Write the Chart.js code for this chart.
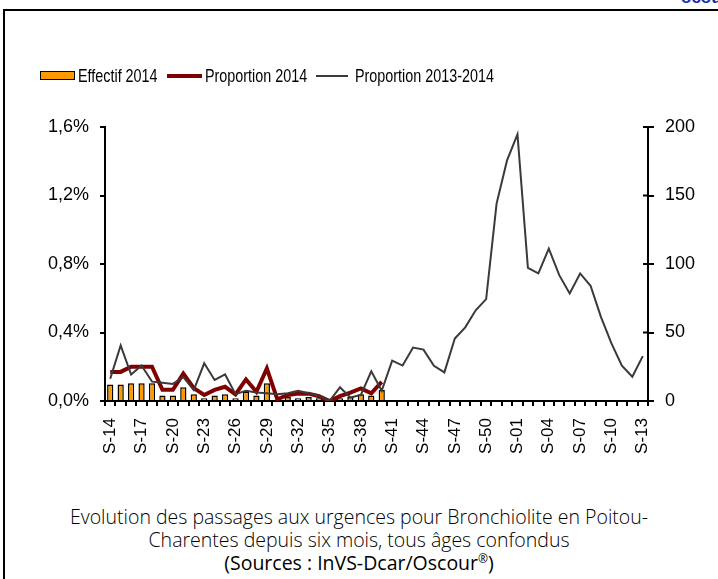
<!DOCTYPE html>
<html lang="fr">
<head>
<meta charset="utf-8">
<title>Bronchiolite Poitou-Charentes</title>
<script src="https://cdn.jsdelivr.net/npm/chart.js@4.4.1/dist/chart.umd.min.js"></script>
<style>
  html, body { margin: 0; padding: 0; background: #fff; overflow: hidden; }
  #page { position: relative; width: 718px; height: 579px; overflow: hidden; }
  #frame { position: absolute; left: 3px; top: 9px; right: -10px; bottom: -10px;
           border-left: 2px solid #000; border-top: 2px solid #000; }
  #head { position: absolute; left: 681px; top: -12px; white-space: nowrap;
          font: bold 17px "Liberation Sans", Arial, sans-serif; color: #1c2f9e; }
  #chart { position: absolute; left: 0; top: 0; }
  .lg { position: absolute; }
  .lg-box { left: 40px; top: 71px; width: 33px; height: 7px; background: #FF9900; border: 1.5px solid #000; }
  .lg-red { left: 167px; top: 74px; width: 35px; height: 4px; background: #800000; }
  .lg-gray { left: 316px; top: 75px; width: 32px; height: 2px; background: #3a3a3a; }
  .lg-txt { top: 65px; white-space: nowrap; font: 18.5px "Liberation Sans", Arial, sans-serif;
            line-height: 22px; color: #000; transform: scaleX(0.776); transform-origin: left center; }
  #caption { position: absolute; left: 0; width: 718px; top: 505px; text-align: center;
             font-family: "Open Sans", sans-serif; font-weight: 300; font-size: 19.5px;
             line-height: 23px; color: #000; }
  #caption .src { font-weight: 400; }
  #caption sup { font-size: 12px; line-height: 0; }
</style>
</head>
<body>
<div id="page">
  <div id="head">ocou</div>
  <div id="frame"></div>
  <canvas id="chart" width="718" height="470"></canvas>
  <div id="legend">
    <div class="lg lg-box"></div><div class="lg lg-txt" style="left:78px">Effectif 2014</div>
    <div class="lg lg-red"></div><div class="lg lg-txt" style="left:205px">Proportion 2014</div>
    <div class="lg lg-gray"></div><div class="lg lg-txt" style="left:355px">Proportion 2013-2014</div>
  </div>
  <div id="caption">
    Evolution des passages aux urgences pour Bronchiolite en Poitou-<br>
    Charentes depuis six mois, tous âges confondus<br>
    <span class="src">(Sources : InVS-Dcar/Oscour<sup>®</sup>)</span>
  </div>
</div>
<script>
// semaines S-14 (2014) a S-13 (2015)
const weeks = ['S-14', 'S-15', 'S-16', 'S-17', 'S-18', 'S-19', 'S-20', 'S-21', 'S-22', 'S-23',
  'S-24', 'S-25', 'S-26', 'S-27', 'S-28', 'S-29', 'S-30', 'S-31', 'S-32', 'S-33',
  'S-34', 'S-35', 'S-36', 'S-37', 'S-38', 'S-39', 'S-40', 'S-41', 'S-42', 'S-43',
  'S-44', 'S-45', 'S-46', 'S-47', 'S-48', 'S-49', 'S-50', 'S-51', 'S-52', 'S-01',
  'S-02', 'S-03', 'S-04', 'S-05', 'S-06', 'S-07', 'S-08', 'S-09', 'S-10', 'S-11',
  'S-12', 'S-13'];

// nombre de passages 2014 (axe droit)
const effectif2014 = [12, 12, 13, 13, 13, 4, 4, 10, 5, 2, 4, 5, 2, 7, 4, 13, 1, 3, 2, 3,
  2, 0, 2, 3, 5, 4, 8];

// proportion (%) 2014 (axe gauche)
const proportion2014 = [0.17, 0.17, 0.20, 0.20, 0.20, 0.065, 0.065, 0.16, 0.075, 0.035,
  0.065, 0.083, 0.039, 0.126, 0.054, 0.19, 0.01, 0.035, 0.043, 0.043,
  0.028, 0, 0.028, 0.049, 0.074, 0.045, 0.112];

// proportion (%) 2013-2014
const proportion1314 = [0.13, 0.325, 0.154, 0.207, 0.113, 0.107, 0.10, 0.14, 0.064, 0.22,
  0.123, 0.155, 0.04, 0.06, 0.05, 0.045, 0.04, 0.045, 0.06, 0.045,
  0.03, 0, 0.08, 0.02, 0.035, 0.173, 0.06, 0.236, 0.207, 0.312,
  0.30, 0.206, 0.167, 0.365, 0.43, 0.53, 0.595, 1.153, 1.405, 1.557,
  0.777, 0.745, 0.89, 0.735, 0.628, 0.745, 0.673, 0.49, 0.336, 0.206,
  0.142, 0.262];

const leftTicks = [0, 0.4, 0.8, 1.2, 1.6];
const rightTicks = [0, 50, 100, 150, 200];

Chart.defaults.font.family = '"Liberation Sans", Arial, sans-serif';
Chart.defaults.color = '#000';

// petits traits vers l'interieur sur l'axe de droite
const innerTicks = {
  id: 'innerTicks',
  afterDraw(chart) {
    const s = chart.scales.y1;
    const ctx = chart.ctx;
    ctx.save();
    ctx.strokeStyle = '#000';
    ctx.lineWidth = 2;
    s.ticks.forEach(t => {
      const y = s.getPixelForValue(t.value);
      ctx.beginPath();
      ctx.moveTo(s.left - 5, y);
      ctx.lineTo(s.left, y);
      ctx.stroke();
    });
    ctx.restore();
  }
};

const ctx = document.getElementById('chart').getContext('2d');
new Chart(ctx, {
  data: {
    labels: weeks,
    datasets: [
      {
        type: 'bar',
        label: 'Effectif 2014',
        data: effectif2014,
        yAxisID: 'y1',
        backgroundColor: '#FF9900',
        borderColor: '#000',
        borderWidth: 1.5,
        barPercentage: 0.6,
        categoryPercentage: 1,
        order: 3
      },
      {
        type: 'line',
        label: 'Proportion 2014',
        data: proportion2014,
        yAxisID: 'y',
        borderColor: '#800000',
        borderWidth: 4,
        pointRadius: 0,
        tension: 0,
        order: 2
      },
      {
        type: 'line',
        label: 'Proportion 2013-2014',
        data: proportion1314,
        yAxisID: 'y',
        borderColor: '#3a3a3a',
        borderWidth: 2,
        pointRadius: 0,
        tension: 0,
        order: 1
      }
    ]
  },
  options: {
    responsive: false,
    animation: false,
    layout: { padding: { left: 30, top: 127, right: 0, bottom: 0 } },
    plugins: {
      legend: { display: false },
      tooltip: { enabled: false }
    },
    scales: {
      x: {
        offset: true,
        grid: { offset: true, drawOnChartArea: false, color: '#000', lineWidth: 2, tickLength: 5 },
        border: { color: '#000', width: 2 },
        ticks: {
          autoSkip: false,
          minRotation: 90,
          maxRotation: 90,
          padding: 12,
          font: { size: 17 },
          color: '#000',
          callback: function (v, i) { return i % 3 === 0 ? this.getLabelForValue(v) : ''; }
        },
        afterFit: s => { s.height = 69; }
      },
      y: {
        position: 'left',
        min: 0,
        max: 1.6,
        grid: { drawOnChartArea: false, color: '#000', lineWidth: 2, tickLength: 5 },
        border: { color: '#000', width: 2 },
        ticks: {
          padding: 11,
          font: { size: 18 },
          color: '#000',
          callback: v => v.toFixed(1).replace('.', ',') + '%'
        },
        afterBuildTicks: s => { s.ticks = leftTicks.map(v => ({ value: v })); },
        afterFit: s => { s.width = 75; }
      },
      y1: {
        position: 'right',
        min: 0,
        max: 200,
        grid: { drawOnChartArea: false, color: '#000', lineWidth: 2, tickLength: 6 },
        border: { color: '#000', width: 2 },
        ticks: { padding: 11, font: { size: 18 }, color: '#000' },
        afterBuildTicks: s => { s.ticks = rightTicks.map(v => ({ value: v })); },
        afterFit: s => { s.width = 70; }
      }
    }
  },
  plugins: [innerTicks]
});
</script>
</body>
</html>
